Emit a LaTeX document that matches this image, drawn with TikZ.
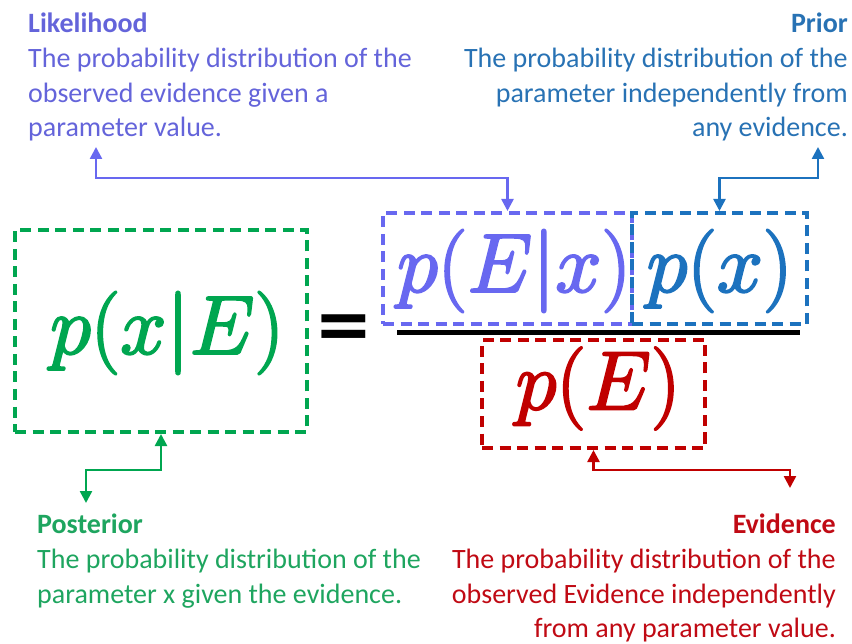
\RequirePackage{fix-cm}
\documentclass[tikz,border=0pt]{standalone}
\usepackage[no-math]{fontspec}
\setmainfont{Carlito}
\newfontfamily\eqfont{DejaVu Sans}
\usetikzlibrary{arrows.meta}
\definecolor{cgreen}{RGB}{0,166,80}
\definecolor{cgreentxt}{RGB}{30,165,95}
\definecolor{cpurple}{RGB}{104,104,240}
\definecolor{cpurpletxt}{RGB}{100,100,218}
\definecolor{cblue}{RGB}{28,114,190}
\definecolor{cbluetxt}{RGB}{40,114,180}
\definecolor{cred}{RGB}{192,0,0}
\definecolor{credtxt}{RGB}{192,10,20}
\newcommand{\heavymath}[1]{\special{pdf:literal direct 2 Tr 2.2 w 1 j}#1\special{pdf:literal direct 0 Tr}}
\tikzset{
  dbox/.style={draw, rectangle, inner sep=0pt, line width=4pt, dash pattern=on 11pt off 6.5pt},
  formula/.style={inner sep=0pt, font=\fontsize{83}{96}\selectfont},
  desc/.style={inner sep=0pt, font=\fontsize{28}{34.7}\selectfont},
  link/.style={line width=2.5pt, {Triangle[length=12pt,width=12pt]}-{Triangle[length=12pt,width=12pt]}},
}
\begin{document}
\begin{tikzpicture}[x=1pt,y=-1pt]
\useasboundingbox (0,0) rectangle (852,644);
% boxes
\node[dbox, cgreen, minimum width=292pt, minimum height=202pt] (postbox) at (161,331) {};
\node[dbox, cpurple, minimum width=249pt, minimum height=111pt] (likebox) at (507.5,268.5) {};
\node[dbox, cblue, minimum width=175pt, minimum height=111pt] (priorbox) at (719.5,268.5) {};
\node[dbox, cred, minimum width=223pt, minimum height=108pt] (evbox) at (593.5,394) {};
% formulas
\node[formula, text=cgreen] (postf) at (167,333) {\heavymath{$p(x|E)$}};
\node[formula, text=cpurple] (likef) at (514,271) {\heavymath{$p(E|x)$}};
\node[formula, text=cblue] (priorf) at (719.5,271) {\heavymath{$p(x)$}};
\node[formula, text=cred] (evf) at (598,388.5) {\heavymath{$p(E)$}};
\node[inner sep=0pt, font={\fontsize{70}{80}\eqfont\bfseries}] (eq) at (344,332) {=};
\coordinate (barL) at (397,333);
\coordinate (barR) at (800,333);
\draw[line width=5pt] (barL) -- (barR);
% descriptions
\node[desc, anchor=north west, align=left, text=cpurpletxt] (liketxt) at (28,13)
  {\textbf{Likelihood}\\The probability distribution of the\\observed evidence given a\\parameter value.};
\node[desc, anchor=north east, align=right, text=cbluetxt] (priortxt) at (848,13)
  {\textbf{Prior}\\The probability distribution of the\\parameter independently from\\any evidence.};
\node[desc, anchor=north west, align=left, text=cgreentxt] (posttxt) at (37,514)
  {\textbf{Posterior}\\The probability distribution of the\\parameter x given the evidence.};
\node[desc, anchor=north east, align=right, text=credtxt] (evtxt) at (836,514)
  {\textbf{Evidence}\\The probability distribution of the\\observed Evidence independently\\from any parameter value.};
% connectors
\coordinate (lkt) at (96,147);
\coordinate (lkbend) at (507.5,178);
\draw[link, cpurple] (lkt) |- (lkbend) -- (lkbend |- likebox.north);
\coordinate (prt) at (818,147);
\coordinate (prbend) at (719.5,178);
\draw[link, cblue] (prt) |- (prbend) -- (prbend |- priorbox.north);
\coordinate (pot) at (86,503);
\coordinate (pobend) at (161,470);
\draw[link, cgreen] (pot) |- (pobend) -- (pobend |- postbox.south);
\coordinate (evt) at (790,488);
\coordinate (evbend) at (593.5,470);
\draw[link, cred] (evt) |- (evbend) -- (evbend |- evbox.south);
\end{tikzpicture}
\end{document}
